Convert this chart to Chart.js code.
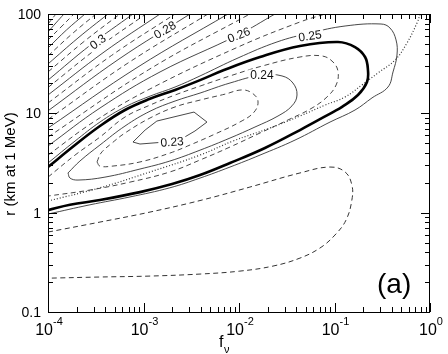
<!DOCTYPE html>
<html><head><meta charset="utf-8">
<script src="https://cdn.jsdelivr.net/npm/chart.js@4/dist/chart.umd.min.js"></script>
<style>html,body{margin:0;padding:0;background:#fff}</style>
</head><body>
<canvas id="c" width="448" height="354"></canvas>
<script>
// ---- axis ticks ----
const xMajorTicks = [1e-4, 1e-3, 1e-2, 1e-1, 1];
const xTickExps = ['-4', '-3', '-2', '-1', '0'];
const yMajorTicks = [0.1, 1, 10, 100];
const yTickLabels = ['0.1', '1', '10', '100'];

// ---- contour lines, points as [f_nu, r] ----
const c230 = [[7.76e-4,5.14],[1.04e-3,6.79],[1.38e-3,8.36],[3.38e-3,10.3],[4.62e-3,8.17],[3.46e-3,6.64],[2.59e-3,5.64],[1.68e-3,5.14],[9.19e-4,4.91],[7.76e-4,5.14]];
const c235 = [[3.26e-4,3.24],[3.59e-4,3.98],[4.68e-4,5.02],[6.40e-4,6.34],[1.17e-3,8.97],[2.14e-3,11.6],[3.91e-3,13.6],[7.13e-3,15.6],[1.07e-2,17.2],[1.37e-2,16.0],[1.58e-2,13.3],[1.44e-2,10.3],[1.02e-2,8.17],[5.61e-3,6.19],[3.07e-3,4.80],[1.89e-3,3.98],[9.19e-4,3.24],[4.68e-4,2.94],[3.50e-4,2.94],[3.26e-4,3.24]];
const c240 = [[1.62e-4,2.51],[2.16e-4,3.31],[3.50e-4,4.80],[6.40e-4,7.45],[1.17e-3,10.5],[2.14e-3,13.3],[3.91e-3,16.0],[8.05e-3,20.2],[1.74e-2,24.3],[2.82e-2,23.8],[3.67e-2,20.2],[4.05e-2,15.3],[3.59e-2,11.9],[2.56e-2,9.40],[1.47e-2,7.28],[8.05e-3,5.64],[3.91e-3,4.26],[1.89e-3,3.31],[9.19e-4,2.75],[3.95e-4,2.28],[2.06e-4,2.13],[1.70e-4,2.23],[1.62e-4,2.51]];
const c245 = [[1e-4,2.28],[1.92e-4,3.80],[3.50e-4,5.77],[6.40e-4,9.18],[1.17e-3,12.1],[2.14e-3,15.3],[3.91e-3,18.8],[8.05e-3,23.8],[1.74e-2,29.9],[4.35e-2,36.9],[7.40e-2,37.8],[9.64e-2,32.9],[1.09e-1,26.1],[1.04e-1,19.3],[8.34e-2,14.6],[5.81e-2,11.3],[3.42e-2,8.77],[1.66e-2,6.34],[8.05e-3,4.58],[3.91e-3,3.39],[1.89e-3,2.57],[7.22e-4,2.03],[2.75e-4,1.69],[1e-4,1.47]];
const thickCurve = [[1e-4,2.88],[1.92e-4,4.80],[3.50e-4,7.45],[6.40e-4,10.8],[1.17e-3,14.0],[2.14e-3,17.2],[3.91e-3,21.6],[6.97e-3,27.3],[1.66e-2,36.9],[4.35e-2,47.6],[1.09e-1,52.3],[1.64e-1,46.5],[2.09e-1,36.9],[2.24e-1,27.3],[2.19e-1,20.7],[1.76e-1,15.3],[1.20e-1,11.6],[9.64e-2,10.3],[4.35e-2,6.79],[1.87e-2,4.48],[8.05e-3,3.16],[3.91e-3,2.39],[1.99e-3,1.94],[9.19e-4,1.61],[3.50e-4,1.34],[1.70e-4,1.20],[1e-4,1.06]];
const c250 = [[1e-4,3.16],[1.92e-4,5.26],[3.50e-4,8.17],[6.40e-4,11.6],[1.17e-3,14.9],[2.14e-3,18.4],[3.91e-3,23.8],[9.77e-3,36.1],[2.50e-2,52.3],[5.54e-2,64.4],[1.29e-1,75.7],[3.07e-1,79.3],[3.81e-1,72.3],[4.41e-1,54.8],[4.51e-1,38.6],[4.10e-1,26.1],[3.63e-1,18.4],[2.47e-1,14.3],[1.64e-1,10.8],[8.98e-2,8.17],[3.86e-2,5.38],[1.66e-2,3.80],[8.05e-3,2.88],[3.91e-3,2.23],[1.89e-3,1.78],[7.22e-4,1.44],[2.75e-4,1.20],[1e-4,0.968]];
const lowerLoop = [[1e-4,0.638],[3.50e-4,0.804],[1.17e-3,1.014],[4.10e-3,1.34],[1.30e-2,1.81],[4.35e-2,2.51],[8.98e-2,2.88],[1.29e-1,2.57],[1.52e-1,1.90],[1.52e-1,1.34],[1.32e-1,0.842],[1.01e-1,0.595],[7.05e-2,0.441],[4.35e-2,0.349],[2.27e-2,0.290],[1.02e-2,0.258],[3.91e-3,0.241],[1.17e-3,0.230],[3.50e-4,0.225],[1e-4,0.219]];
const dottedCurve = [[1e-4,1.31],[3.50e-4,1.78],[1.17e-3,2.57],[3.91e-3,3.80],[8.65e-3,5.26],[2.11e-2,7.11],[4.35e-2,9.40],[7.96e-2,12.1],[1.29e-1,14.6],[1.94e-1,19.3],[2.85e-1,25.5],[4.31e-1,34.4],[5.74e-1,51.1],[7.31e-1,81.2],[7.9e-1,100]];
// upper-left family (0.255 ... 0.335)
const ul255 = [[1e-4,3.80],[3.10e-4,8.36],[1.17e-3,17.6],[9.77e-3,46.5],[4.35e-2,83.1],[7.96e-2,100]];
const ul260 = [[1e-4,4.69],[3.50e-4,11.3],[1.49e-3,26.1],[9.77e-3,61.5],[2.38e-2,100]];
const ul265 = [[1e-4,5.77],[1.14e-3,27.6],[1.30e-2,100]];
const ul270 = [[1e-4,7.11],[8.76e-4,29.3],[7.67e-3,100]];
const ul275 = [[1e-4,8.67],[6.88e-4,32.1],[4.73e-3,100]];
const ul280 = [[1e-4,10.6],[5.54e-4,35.2],[3.07e-3,100]];
const ul285 = [[1e-4,12.7],[4.62e-4,38.2],[2.14e-3,100]];
const ul290 = [[1e-4,15.3],[3.86e-4,41.4],[1.49e-3,100]];
const ul295 = [[1e-4,18.2],[3.26e-4,45.0],[1.06e-3,100]];
const ul300 = [[1e-4,21.6],[2.79e-4,48.8],[7.76e-4,100]];
const ul305 = [[1e-4,26.1],[2.38e-4,52.8],[5.67e-4,100]];
const ul310 = [[1e-4,31.4],[2.06e-4,57.3],[4.25e-4,100]];
const ul315 = [[1e-4,37.8],[1.78e-4,62.9],[3.18e-4,100]];
const ul320 = [[1e-4,45.5],[1.56e-4,69.0],[2.44e-4,100]];
const ul325 = [[1e-4,54.8],[1.37e-4,74.0],[1.87e-4,100]];
const ul330 = [[1e-4,65.9],[1.21e-4,81.2],[1.47e-4,100]];
const ul335 = [[1e-4,79.3],[1.10e-4,89.0],[1.21e-4,100]];

// contour labels
const lblText = ['0.3', '0.28', '0.26', '0.25', '0.24', '0.23'];
const lblF = [3.34e-4, 1.68e-3, 1.0e-2, 5.54e-2, 1.74e-2, 1.99e-3];
const lblR = [52.3, 69.0, 61.5, 60.0, 24.3, 5.14];
const lblAng = [-36, -30, -22, -8, 0, -4];

const FONT = '"Liberation Sans", Arial, Helvetica, sans-serif';
const DASH = [5, 3.5];
const THIN = '#333';

function ds(pts, o) {
  return Object.assign({
    data: pts.map(p => ({x: p[0], y: p[1]})),
    showLine: true, borderColor: THIN, borderWidth: 0.9,
    pointRadius: 0, tension: 0.4, fill: false, clip: 0
  }, o || {});
}

const datasets = [
  ds(ul255, {borderDash: DASH}), ds(ul260), ds(ul265, {borderDash: DASH}), ds(ul270),
  ds(ul275, {borderDash: DASH}), ds(ul280), ds(ul285, {borderDash: DASH}), ds(ul290),
  ds(ul295, {borderDash: DASH}), ds(ul300), ds(ul305, {borderDash: DASH}), ds(ul310),
  ds(ul315, {borderDash: DASH}), ds(ul320), ds(ul325, {borderDash: DASH}), ds(ul330),
  ds(ul335, {borderDash: DASH}),
  ds(c250),
  ds(thickCurve, {borderWidth: 2.6, borderColor: '#000'}),
  ds(c245, {borderDash: DASH}),
  ds(c240),
  ds(c235, {borderDash: DASH}),
  ds(c230, {tension: 0}),
  ds(lowerLoop, {borderDash: DASH, borderWidth: 1}),
  ds(dottedCurve, {borderDash: [1, 2], borderWidth: 1.2})
];

function line(ctx, x1, y1, x2, y2) { ctx.beginPath(); ctx.moveTo(x1, y1); ctx.lineTo(x2, y2); ctx.stroke(); }

const decor = {
  id: 'decor',
  afterDatasetsDraw(chart) {
    const {ctx, chartArea: a, scales: {x, y}} = chart;
    ctx.save();
    // contour labels
    ctx.font = '12px ' + FONT;
    ctx.textAlign = 'center'; ctx.textBaseline = 'middle';
    lblText.forEach((t, i) => {
      const px = x.getPixelForValue(lblF[i]), py = y.getPixelForValue(lblR[i]);
      ctx.save(); ctx.translate(px, py); ctx.rotate(lblAng[i] * Math.PI / 180);
      const w = ctx.measureText(t).width;
      ctx.fillStyle = '#fff'; ctx.fillRect(-w / 2 - 2, -5.5, w + 4, 11);
      ctx.fillStyle = '#111'; ctx.fillText(t, 0, 0.5);
      ctx.restore();
    });
    // frame
    ctx.strokeStyle = '#000'; ctx.lineWidth = 1;
    ctx.strokeRect(a.left + 0.5, a.top + 0.5, a.right - a.left - 1, a.bottom - a.top);
    // x ticks
    for (let d = -4; d <= 0; d++) {
      for (let m = 1; m <= 9; m++) {
        if (d === 0 && m > 1) break;
        const v = m * Math.pow(10, d);
        const px = Math.round(x.getPixelForValue(v)) + 0.5;
        const L = m === 1 ? 9 : 5;
        line(ctx, px, a.bottom, px, a.bottom - L);
        line(ctx, px, a.top, px, a.top + L);
      }
    }
    // y ticks
    for (let d = -1; d <= 2; d++) {
      for (let m = 1; m <= 9; m++) {
        if (d === 2 && m > 1) break;
        const v = m * Math.pow(10, d);
        const py = Math.round(y.getPixelForValue(v)) + 0.5;
        const L = m === 1 ? 9 : 5;
        line(ctx, a.left, py, a.left + L, py);
        line(ctx, a.right, py, a.right - L, py);
      }
    }
    ctx.fillStyle = '#000';
    // y tick labels
    ctx.font = '14px ' + FONT; ctx.textAlign = 'right'; ctx.textBaseline = 'middle';
    yMajorTicks.forEach((v, i) => ctx.fillText(yTickLabels[i], a.left - 7, y.getPixelForValue(v) + 1));
    // x tick labels with superscripts
    ctx.textAlign = 'left'; ctx.textBaseline = 'alphabetic';
    xMajorTicks.forEach((v, i) => {
      const px = x.getPixelForValue(v);
      ctx.font = '16px ' + FONT; const wb = ctx.measureText('10').width;
      ctx.font = '11px ' + FONT; const we = ctx.measureText(xTickExps[i]).width;
      const x0 = px - (wb + we) / 2 + 1;
      ctx.font = '16px ' + FONT; ctx.fillText('10', x0, a.bottom + 23);
      ctx.font = '11px ' + FONT; ctx.fillText(xTickExps[i], x0 + wb, a.bottom + 13);
    });
    // x title
    ctx.font = '16px ' + FONT; ctx.fillText('f', 219, 347);
    ctx.font = '11px ' + FONT; ctx.fillText('ν', 224, 353);
    // y title
    ctx.save(); ctx.translate(15, 164); ctx.rotate(-Math.PI / 2);
    ctx.font = '15px ' + FONT; ctx.textAlign = 'center'; ctx.textBaseline = 'alphabetic';
    ctx.fillText('r (km at 1 MeV)', 0, 0);
    ctx.restore();
    // panel tag
    ctx.font = '28px ' + FONT; ctx.textAlign = 'left';
    ctx.fillText('(a)', 377, 293);
    ctx.restore();
  }
};

new Chart(document.getElementById('c'), {
  type: 'scatter',
  data: {datasets},
  options: {
    responsive: false, animation: false, devicePixelRatio: 1,
    layout: {padding: {left: 48, right: 18, top: 14, bottom: 42}},
    plugins: {legend: {display: false}, tooltip: {enabled: false}},
    elements: {line: {capBezierPoints: false}, point: {radius: 0}},
    scales: {
      x: {type: 'logarithmic', min: 1e-4, max: 1, display: false},
      y: {type: 'logarithmic', min: 0.1, max: 100, display: false}
    }
  },
  plugins: [decor]
});
</script>
</body></html>
